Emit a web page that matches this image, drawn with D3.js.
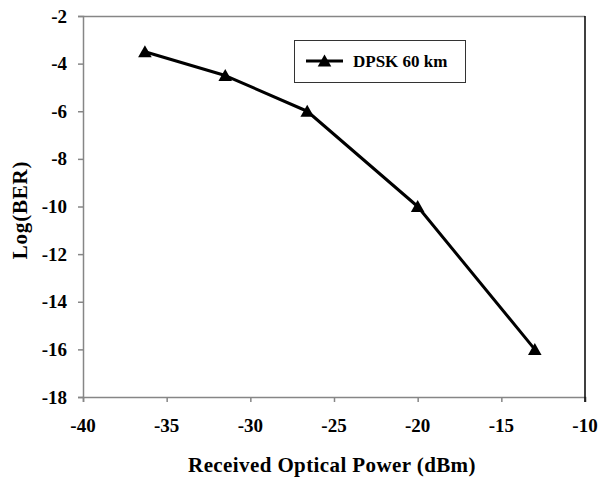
<!DOCTYPE html>
<html>
<head>
<meta charset="utf-8">
<script src="https://cdn.jsdelivr.net/npm/d3@7"></script>
<style>
  html, body { margin: 0; padding: 0; background: #fff; }
  svg { display: block; }
</style>
</head>
<body>
<svg id="chart" width="598" height="479"></svg>
<script>
// Received optical power (dBm) and log10 of the bit error rate
const powerDbm = [-36.3, -31.5, -26.6, -20, -13];
const logBer = [-3.5, -4.5, -6, -10, -16];
const seriesName = "DPSK 60 km";
const xTicks = [-40, -35, -30, -25, -20, -15, -10];
const yTicks = [-2, -4, -6, -8, -10, -12, -14, -16, -18];
const xTitle = "Received Optical Power (dBm)";
const yTitle = "Log(BER)";

const FONT = "'Liberation Serif', 'Times New Roman', Times, serif";
const svg = d3.select("#chart");
const plot = { left: 83, right: 585, top: 16, bottom: 397 };

const x = d3.scaleLinear().domain([-40, -10]).range([plot.left, plot.right]);
const y = d3.scaleLinear().domain([-2, -18]).range([plot.top, plot.bottom]);

// Frame: top border in gray
svg.append("line")
  .attr("x1", plot.left).attr("x2", plot.right)
  .attr("y1", plot.top + 0.5).attr("y2", plot.top + 0.5)
  .attr("stroke", "#868686").attr("stroke-width", 1.5);

// Axis lines and ticks
const xAxis = d3.axisBottom(x).tickValues(xTicks).tickSize(5).tickFormat("");
const yAxis = d3.axisLeft(y).tickValues(yTicks).tickSize(5).tickFormat("");

const gx = svg.append("g").attr("transform", `translate(0,${plot.bottom})`).call(xAxis);
const gy = svg.append("g").attr("transform", `translate(${plot.left},0)`).call(yAxis);

[gx, gy].forEach(g => {
  g.select(".domain").attr("stroke", "#868686").attr("stroke-width", 1.5);
  g.selectAll(".tick line").attr("stroke", "#868686").attr("stroke-width", 1.5);
  g.selectAll(".tick text").remove();
});

// Tick labels
svg.append("g").selectAll("text")
  .data(xTicks)
  .enter().append("text")
  .attr("x", d => x(d))
  .attr("y", 432)
  .attr("text-anchor", "middle")
  .attr("font-family", FONT)
  .attr("font-weight", "bold")
  .attr("font-size", 19)
  .attr("fill", "#000")
  .text(d => String(d));

svg.append("g").selectAll("text")
  .data(yTicks)
  .enter().append("text")
  .attr("x", 67)
  .attr("y", d => y(d) + 6.5)
  .attr("text-anchor", "end")
  .attr("font-family", FONT)
  .attr("font-weight", "bold")
  .attr("font-size", 19)
  .attr("fill", "#000")
  .text(d => String(d));

// Right border in black, running down into the last x tick
svg.append("line")
  .attr("x1", plot.right).attr("x2", plot.right)
  .attr("y1", plot.top).attr("y2", plot.bottom + 5)
  .attr("stroke", "#000").attr("stroke-width", 1.5);

// Axis titles
svg.append("text")
  .attr("x", (plot.left + plot.right) / 2 - 2)
  .attr("y", 472)
  .attr("text-anchor", "middle")
  .attr("font-family", FONT)
  .attr("font-weight", "bold")
  .attr("font-size", 21)
  .attr("letter-spacing", 0.4)
  .text(xTitle);

svg.append("text")
  .attr("transform", "translate(27,210) rotate(-90)")
  .attr("text-anchor", "middle")
  .attr("font-family", FONT)
  .attr("font-weight", "bold")
  .attr("font-size", 21)
  .attr("letter-spacing", 0.8)
  .text(yTitle);

// Series line and triangle markers
const pts = powerDbm.map((p, i) => [p, logBer[i]]);
const line = d3.line().x(d => x(d[0])).y(d => y(d[1]));

svg.append("path")
  .datum(pts)
  .attr("d", line)
  .attr("fill", "none")
  .attr("stroke", "#000")
  .attr("stroke-width", 3)
  .attr("stroke-linejoin", "round");

const tri = "M0,-6.5L6.8,5.5L-6.8,5.5Z";
svg.selectAll(".marker")
  .data(pts)
  .enter().append("path")
  .attr("class", "marker")
  .attr("d", tri)
  .attr("transform", d => `translate(${x(d[0])},${y(d[1])})`)
  .attr("fill", "#000");

// Legend
const lg = svg.append("g");
lg.append("rect")
  .attr("x", 294.5).attr("y", 40.5)
  .attr("width", 171).attr("height", 42)
  .attr("fill", "#fff").attr("stroke", "#333").attr("stroke-width", 1);
lg.append("line")
  .attr("x1", 306).attr("x2", 343).attr("y1", 61).attr("y2", 61)
  .attr("stroke", "#000").attr("stroke-width", 3);
lg.append("path").attr("d", tri).attr("transform", "translate(324.5,61)").attr("fill", "#000");
lg.append("text")
  .attr("x", 353).attr("y", 67)
  .attr("font-family", FONT)
  .attr("font-weight", "bold")
  .attr("font-size", 17)
  .text(seriesName);
</script>
</body>
</html>
